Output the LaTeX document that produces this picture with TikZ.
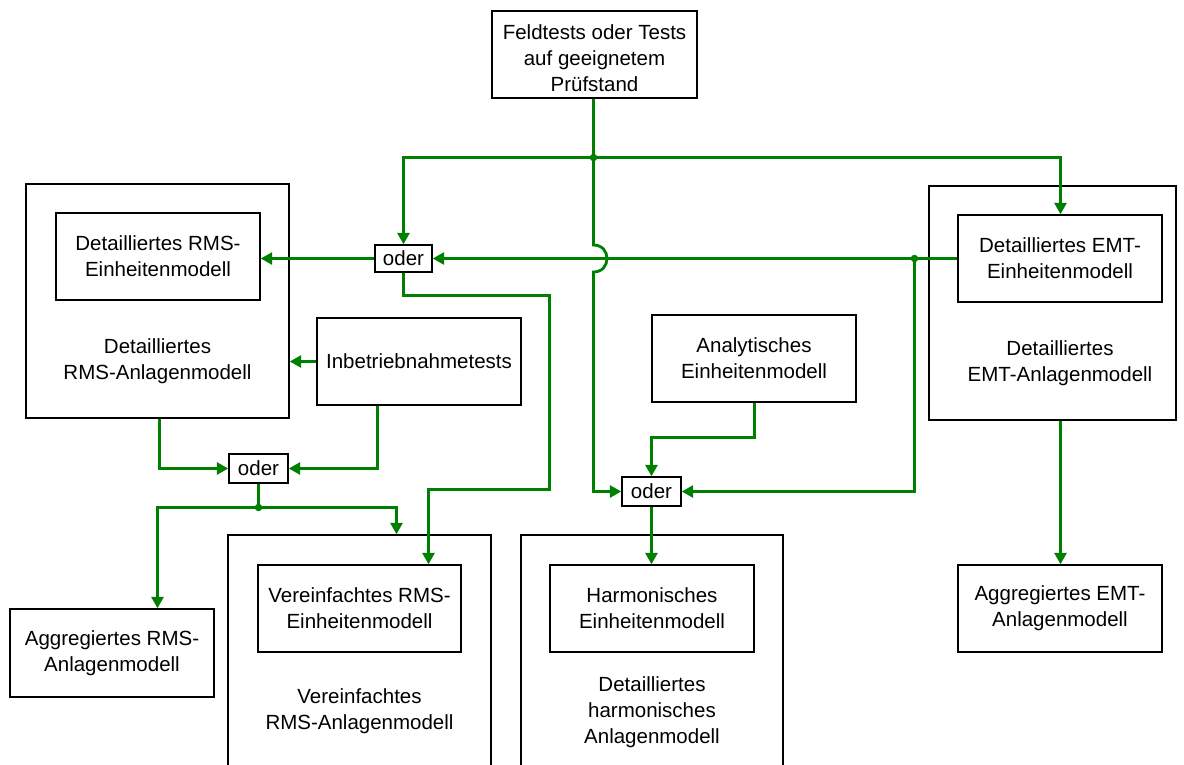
\documentclass[tikz,border=0pt]{standalone}
\usepackage{fontspec}
\setmainfont{Liberation Sans}
\usetikzlibrary{arrows.meta}
\definecolor{linegreen}{RGB}{0,128,0}
\tikzset{
    box/.style={draw, line width=1.4pt, minimum width=204pt, minimum height=87pt, inner sep=0pt, align=center},
    plant/.style={draw, line width=1.4pt, inner sep=0pt},
    orbox/.style={draw, line width=1.4pt, minimum width=59pt, minimum height=29pt, inner sep=0pt},
    label/.style={align=center, inner sep=0pt},
    link/.style={draw=linegreen, line width=2.8pt},
    flow/.style={link, -{Triangle[length=11.5pt,width=12pt]}},
    dot/.style={circle, fill=linegreen, inner sep=0pt, minimum size=7.5pt}
}

\begin{document}
\begin{tikzpicture}[x=1pt, y=-1pt, font=\fontsize{20.5}{26}\selectfont]
    \clip (0,0) rectangle (1184,764);
    \node[plant, minimum width=263pt, minimum height=234pt] (rmsplant) at (157.5,301) {};
    \node[plant, minimum width=247pt, minimum height=234pt] (emtplant) at (1052.5,303) {};
    \node[plant, minimum width=263pt, minimum height=265pt] (simpplant) at (359.5,667.5) {};
    \node[plant, minimum width=262pt, minimum height=265pt] (harmplant) at (652,667.5) {};
    \node[label] at (157.5,361) {Detailliertes\\RMS-Anlagenmodell};
    \node[label] at (1060,363) {Detailliertes\\EMT-Anlagenmodell};
    \node[label] at (359.5,711) {Vereinfachtes\\RMS-Anlagenmodell};
    \node[label] at (652,712) {Detailliertes\\harmonisches\\Anlagenmodell};
    \node[box, minimum width=205pt] (feld) at (594.5,54.5) {\rule{0pt}{22pt}Feldtests oder Tests\\auf geeignetem\\Prüfstand};
    \node[box] (rmsunit) at (158,256.5) {Detailliertes RMS-\\Einheitenmodell};
    \node[box] (inbetrieb) at (419,361.5) {Inbetriebnahmetests};
    \node[box] (analyt) at (754,358.5) {Analytisches\\Einheitenmodell};
    \node[box] (emtunit) at (1060,258.5) {Detailliertes EMT-\\Einheitenmodell};
    \node[box] (aggemt) at (1060,608.5) {Aggregiertes EMT-\\Anlagenmodell};
    \node[box, minimum height=88pt] (aggrms) at (112,653) {Aggregiertes RMS-\\Anlagenmodell};
    \node[box, minimum width=203pt] (simpunit) at (359.5,608.5) {Vereinfachtes RMS-\\Einheitenmodell};
    \node[box] (harmunit) at (652,608.5) {Harmonisches\\Einheitenmodell};
    \node[orbox, minimum width=57pt, minimum height=27pt] (oderA) at (403.5,258.5) {oder};
    \node[orbox] (oderB) at (258.5,468.5) {oder};
    \node[orbox] (oderC) at (651.5,491.5) {oder};
    \coordinate (jtop) at (593.5,157.5);
    \coordinate (jemt) at (914.5,258.5);
    \coordinate (jrms) at (258.5,507.5);
    \draw[link] (feld.south -| jtop) -- (jtop);
    \draw[flow] (jtop) -| (oderA.north);
    \draw[flow] (jtop) -| (1060.5,0 |- emtunit.north);
    \draw[flow] (jtop) -- (593.5,245) .. controls (611.5,245) and (611.5,272) .. (593.5,272) |- (oderC.west);
    \draw[flow] (emtunit.west) -- (oderA.east);
    \draw[flow] (jemt) |- (oderC.east);
    \draw[flow] (oderA.west) -- (oderA.west -| rmsunit.east);
    \draw[flow] (oderA.south) |- (549.5,295.5) |- (428.5,489.5) -- (428.5,0 |- simpunit.north);
    \draw[flow] (inbetrieb.west) -- (inbetrieb.west -| rmsplant.east);
    \draw[flow] (159.5,0 |- rmsplant.south) |- (oderB.west);
    \draw[flow] (377.5,0 |- inbetrieb.south) |- (oderB.east);
    \draw[link] (oderB.south) -- (jrms);
    \draw[flow] (jrms) -| (157.5,0 |- aggrms.north);
    \draw[flow] (jrms) -| (396.5,0 |- simpplant.north);
    \draw[flow] (754.5,0 |- analyt.south) |- (651.5,437.5) -- (oderC.north);
    \draw[flow] (oderC.south) -- (oderC.south |- harmunit.north);
    \draw[flow] (1060.5,0 |- emtplant.south) -- (1060.5,0 |- aggemt.north);
    \node[dot] at (jtop) {};
    \node[dot] at (jemt) {};
    \node[dot] at (jrms) {};
\end{tikzpicture}
\end{document}
